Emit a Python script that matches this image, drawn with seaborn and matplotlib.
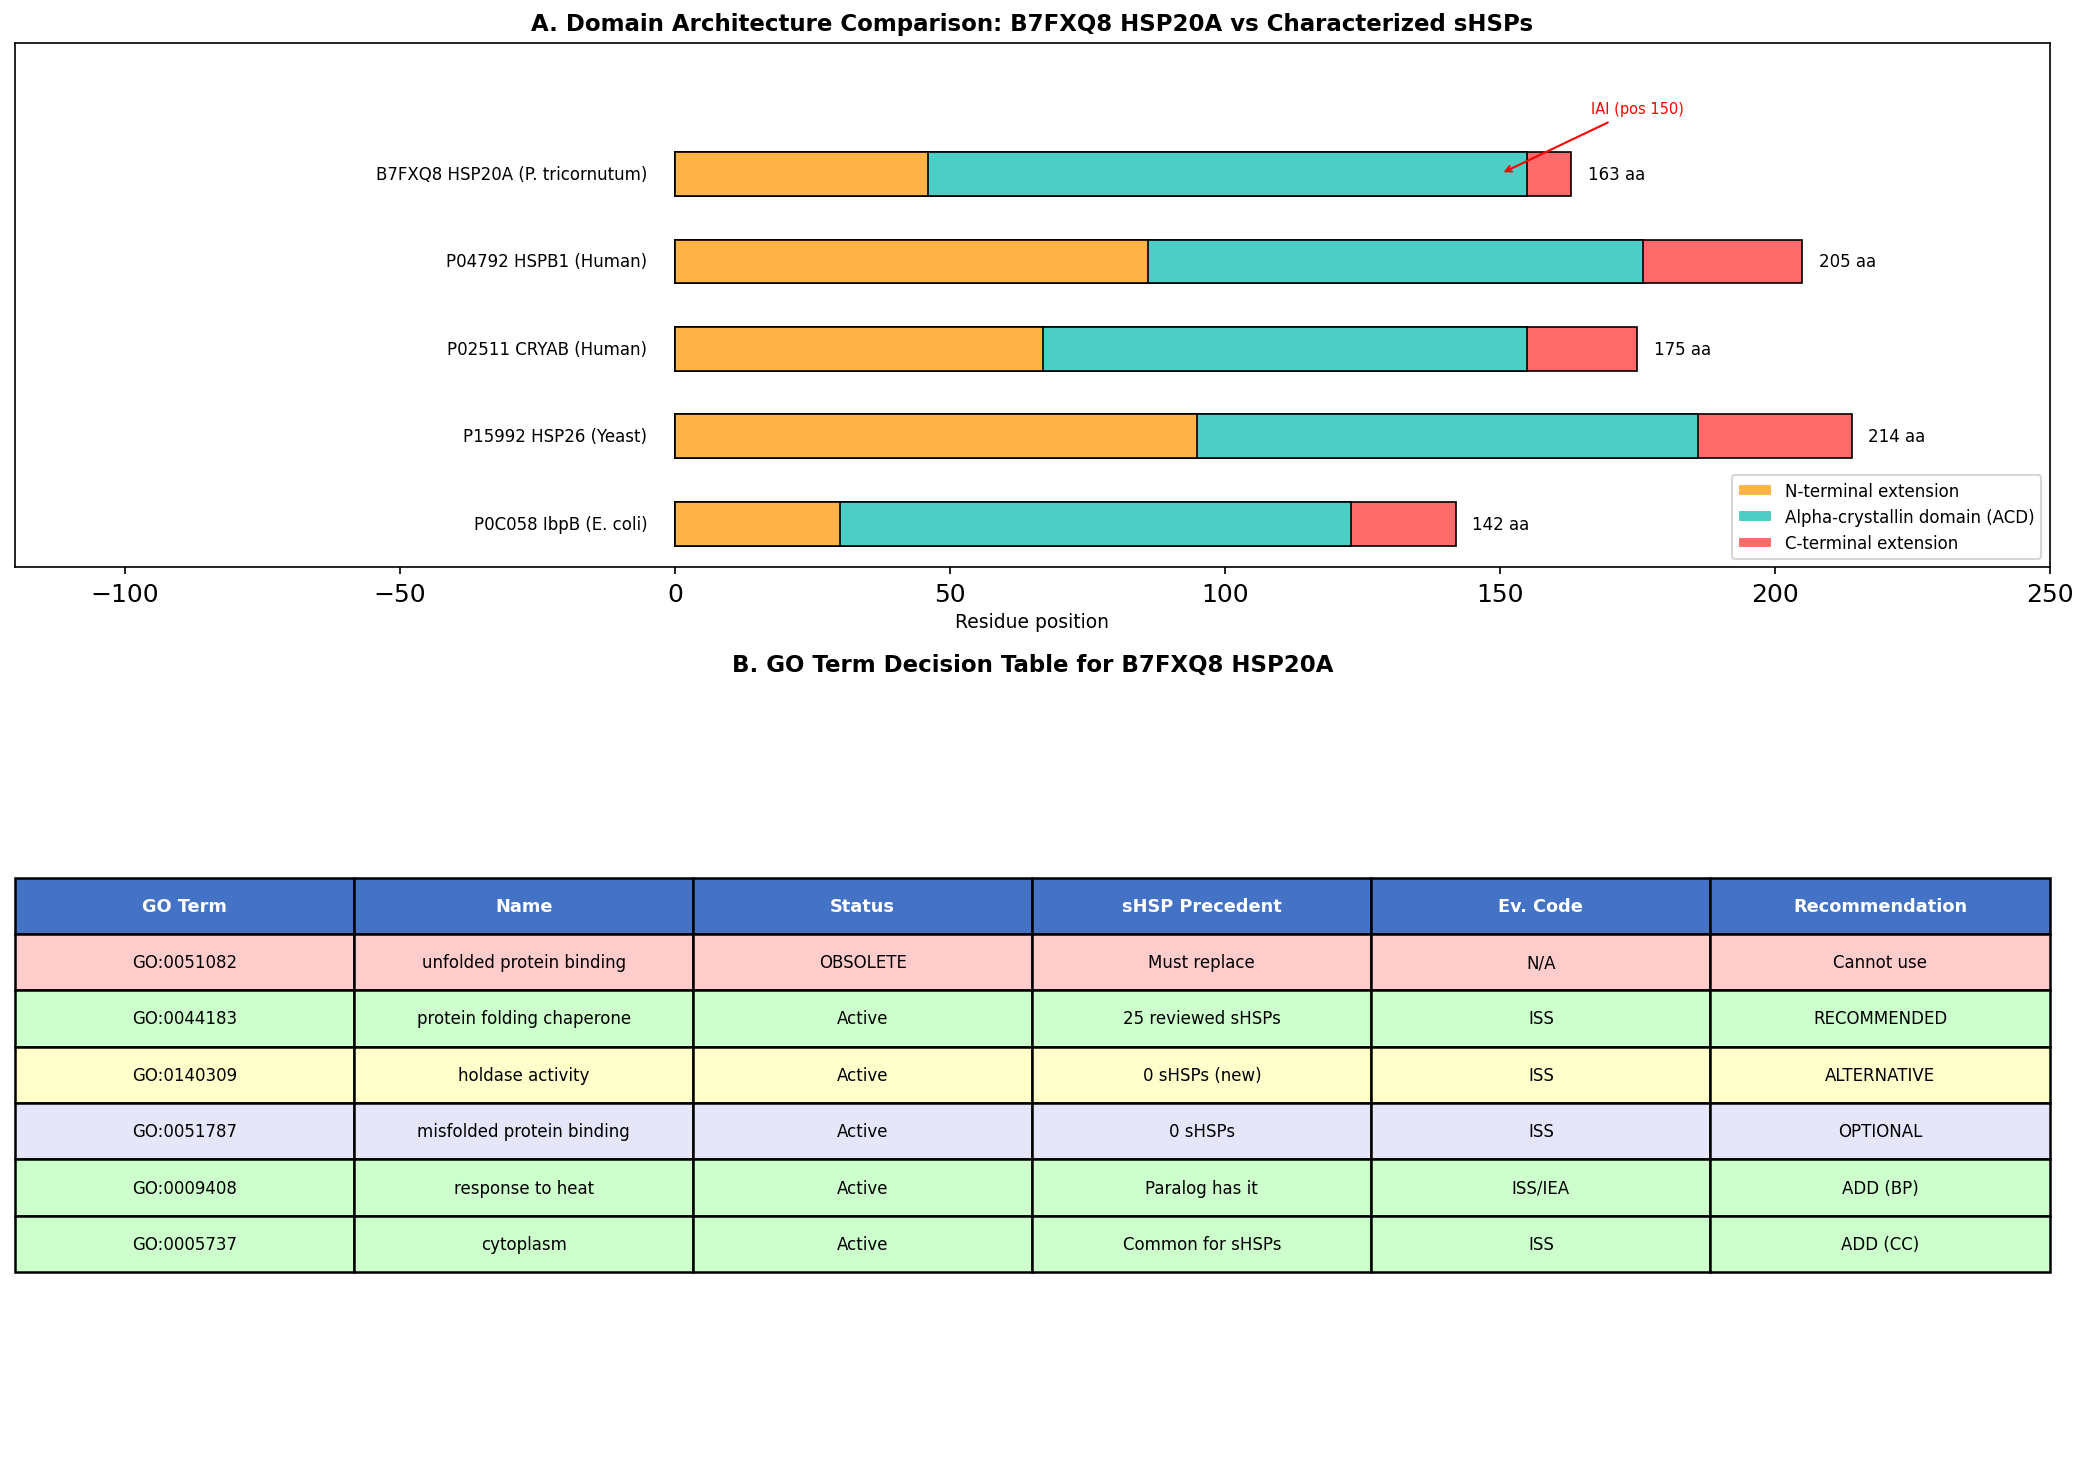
import numpy as np
import pandas as pd
import matplotlib
matplotlib.use("Agg")
import matplotlib.pyplot as plt
from matplotlib.patches import Patch
import seaborn as sns

# panel A: domain boundaries (residue positions)
proteins = ["B7FXQ8 HSP20A (P. tricornutum)", "P04792 HSPB1 (Human)",
            "P02511 CRYAB (Human)", "P15992 HSP26 (Yeast)", "P0C058 IbpB (E. coli)"]
n_end = [46, 86, 67, 95, 30]
acd_end = [155, 176, 155, 186, 123]
lengths = [163, 205, 175, 214, 142]

domain_labels = ["N-terminal extension", "Alpha-crystallin domain (ACD)", "C-terminal extension"]
domain_colors = ["#FFB347", "#4ECDC4", "#FF6B6B"]

iai_pos = 150

# panel B: GO term table
col_labels = ["GO Term", "Name", "Status", "sHSP Precedent", "Ev. Code", "Recommendation"]
go_terms = ["GO:0051082", "GO:0044183", "GO:0140309", "GO:0051787", "GO:0009408", "GO:0005737"]
go_names = ["unfolded protein binding", "protein folding chaperone", "holdase activity",
            "misfolded protein binding", "response to heat", "cytoplasm"]
go_status = ["OBSOLETE", "Active", "Active", "Active", "Active", "Active"]
precedent = ["Must replace", "25 reviewed sHSPs", "0 sHSPs (new)", "0 sHSPs",
             "Paralog has it", "Common for sHSPs"]
ev_codes = ["N/A", "ISS", "ISS", "ISS", "ISS/IEA", "ISS"]
recommend = ["Cannot use", "RECOMMENDED", "ALTERNATIVE", "OPTIONAL", "ADD (BP)", "ADD (CC)"]
row_colors = ["#FFCCCC", "#CCFFCC", "#FFFFCC", "#E6E6FA", "#CCFFCC", "#CCFFCC"]
header_color = "#4472C4"


def main():
    sns.set_style("ticks")
    plt.rcParams['font.family'] = ['DejaVu Sans']
    plt.rcParams.update({"text.color": "black", "axes.labelcolor": "black",
                         "xtick.color": "black", "ytick.color": "black",
                         "axes.edgecolor": "black"})

    fig = plt.figure(figsize=(13.9, 9.893), dpi=150)
    ax1 = fig.add_axes([0.0072, 0.617, 0.9758, 0.3534])
    ax2 = fig.add_axes([0.0072, 0.008, 0.9758, 0.534])

    df = pd.DataFrame({"protein": proteins, "n_end": n_end,
                       "acd_end": acd_end, "length": lengths})

    # overlapping bars, longest first, give the stacked domain look
    for col, color in zip(["length", "acd_end", "n_end"], domain_colors[::-1]):
        sns.barplot(data=df, x=col, y="protein", orient="h", color=color,
                    saturation=1, width=0.5, edgecolor="black", linewidth=0.8,
                    ax=ax1)

    for i, (name, L) in enumerate(zip(proteins, lengths)):
        ax1.text(-5, i, name, ha="right", va="center", fontsize=8)
        ax1.text(L + 3, i, f"{L} aa", ha="left", va="center", fontsize=8)

    ax1.annotate(f"IAI (pos {iai_pos})", xy=(iai_pos, 0), xytext=(175, -0.75),
                 fontsize=7, color="red", ha="center", va="center",
                 arrowprops=dict(arrowstyle="->", color="red", lw=1))

    ax1.set_xlim(-120, 250)
    ax1.set_ylim(4.5, -1.5)
    ax1.set_yticks([])
    ax1.set_ylabel("")
    ax1.set_xlabel("Residue position", fontsize=9, labelpad=3)
    ax1.tick_params(axis="x", labelsize=12)
    for s in ax1.spines.values():
        s.set_visible(True)
        s.set_color("black")
    handles = [Patch(facecolor=c, label=l) for c, l in zip(domain_colors, domain_labels)]
    ax1.legend(handles=handles, loc="lower right", fontsize=8)
    ax1.set_title("A. Domain Architecture Comparison: B7FXQ8 HSP20A vs Characterized sHSPs",
                  fontsize=11, fontweight="bold")

    # table
    ax2.axis("off")
    cells = [list(r) for r in zip(go_terms, go_names, go_status, precedent, ev_codes, recommend)]
    tbl = ax2.table(cellText=cells, colLabels=col_labels, cellLoc="center",
                    bbox=[0, 0.251, 1, 0.498])
    tbl.auto_set_font_size(False)
    tbl.set_fontsize(8)
    for (r, c), cell in tbl.get_celld().items():
        cell.set_linewidth(1.2)
        if r == 0:
            cell.set_facecolor(header_color)
            cell.set_text_props(color="white", fontweight="bold", fontsize=8.5)
        else:
            cell.set_facecolor(row_colors[r - 1])
    ax2.set_title("B. GO Term Decision Table for B7FXQ8 HSP20A", fontsize=11,
                  fontweight="bold", pad=3.5)

    fig.savefig("out.png", dpi=150)


if __name__ == "__main__":
    main()
